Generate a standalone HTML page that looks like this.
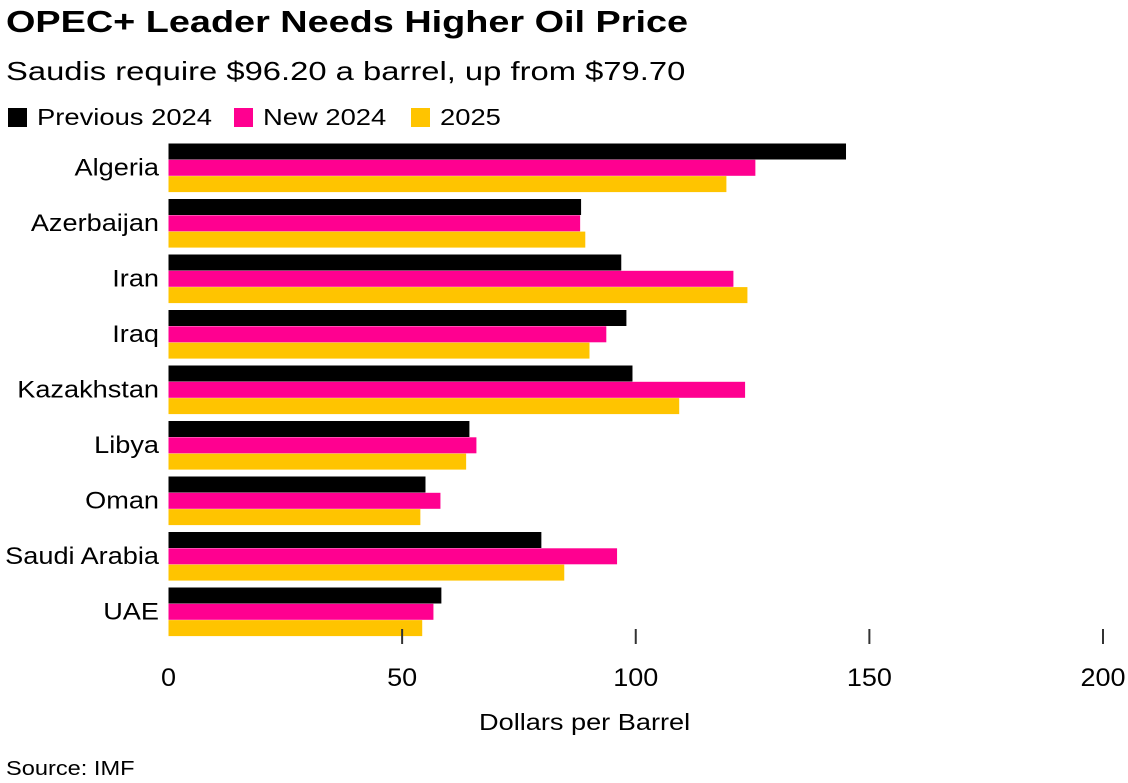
<!DOCTYPE html>
<html><head><meta charset="utf-8"><style>
body{margin:0;background:#fff;font-family:"Liberation Sans",sans-serif;}
svg{display:block}
</style></head><body>
<svg id="c" width="1128" height="783">
<text class="w" data-f="1.22" x="6" y="32" font-size="31" font-weight="bold" fill="#000">OPEC+ Leader Needs Higher Oil Price</text>
<text class="w" data-f="1.26" x="6" y="80" font-size="26" fill="#000">Saudis require $96.20 a barrel, up from $79.70</text>
<g>
<rect x="8" y="108" width="19" height="19" fill="#000"/>
<text class="w" data-f="1.19" x="37" y="125" font-size="23">Previous 2024</text>
<rect x="234" y="108" width="19" height="19" fill="#ff0090"/>
<text class="w" data-f="1.19" x="263" y="125" font-size="23">New 2024</text>
<rect x="411" y="108" width="19" height="19" fill="#ffc400"/>
<text class="w" data-f="1.19" x="440" y="125" font-size="23">2025</text>
</g>
<g id="plot"></g>
<text class="w" data-f="1.18" x="479" y="730" font-size="23">Dollars per Barrel</text>
<text class="w" data-f="1.18" x="6" y="775" font-size="20">Source: IMF</text>
</svg>
<script>
const categories=["Algeria","Azerbaijan","Iran","Iraq","Kazakhstan","Libya","Oman","Saudi Arabia","UAE"];
const prev2024=[145.0,88.3,96.9,98.0,99.3,64.4,55.0,79.8,58.4];
const new2024=[125.6,88.1,120.9,93.7,123.4,65.9,58.2,96.0,56.7];
const y2025=[119.4,89.2,123.9,90.1,109.3,63.7,53.9,84.7,54.3];
const ticks=[0,50,100,150,200];
const ns="http://www.w3.org/2000/svg";
const g=document.getElementById('plot');
const x=v=>168.5+v*(1103-168.5)/200;
const y0=143.5,pitch=55.5,bh=16.3;
const series=[[prev2024,"#000","previous-2024"],[new2024,"#ff0090","new-2024"],[y2025,"#ffc400","2025"]];
function mk(t,a){const e=document.createElementNS(ns,t);for(const k in a)e.setAttribute(k,a[k]);g.appendChild(e);return e;}
function widen(t,f){
  const w=t.getComputedTextLength()*f;
  t.setAttribute('textLength',w);
  t.setAttribute('lengthAdjust','spacingAndGlyphs');
}
categories.forEach((c,i)=>{
  const t=mk('text',{x:159,y:y0+i*pitch+32,'font-size':24,'text-anchor':'end'});
  t.textContent=c;
  
  
  widen(t,1.13);
  series.forEach((s,j)=>{
    const r=mk('rect',{x:x(0),y:y0+i*pitch+j*bh,width:x(s[0][i])-x(0),height:bh-0.3,fill:s[1]});
    
    
  });
});
ticks.forEach(v=>{
  if(v>0){
    const l=mk('line',{x1:x(v),x2:x(v),y1:629,y2:644,stroke:'#333','stroke-width':2});
    
    
  }
  const t=mk('text',{x:x(v),y:686,'font-size':25,'text-anchor':'middle'});
  t.textContent=v;
  
  
  widen(t,1.08);
});
document.querySelectorAll('text.w').forEach(t=>widen(t,parseFloat(t.getAttribute('data-f'))));
</script>
</body></html>
